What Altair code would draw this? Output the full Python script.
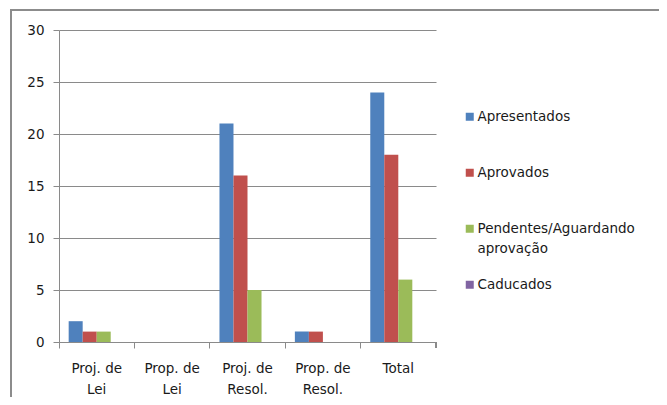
import altair as alt
import pandas as pd

categories = ["Proj. de Lei", "Prop. de Lei", "Proj. de Resol.", "Prop. de Resol.", "Total"]
series = ["Apresentados", "Aprovados", "Pendentes/Aguardando aprovação", "Caducados"]
apresentados = [2, 0, 21, 1, 24]
aprovados = [1, 0, 16, 1, 18]
pendentes = [1, 0, 5, 0, 6]
caducados = [0, 0, 0, 0, 0]
colors = ["#4F81BD", "#C0504D", "#9BBB59", "#8064A2"]
y_ticks = [0, 5, 10, 15, 20, 25, 30]

rows = []
for s, vals in zip(series, [apresentados, aprovados, pendentes, caducados]):
    for c, v in zip(categories, vals):
        rows.append({"cat": c, "serie": s, "valor": v})
df = pd.DataFrame(rows)

W, H = 377, 312
FONT = "DejaVu Sans"
GRAY = "#8a8a8a"

legend_expr = ("indexof(datum.label, '/Aguardando ') >= 0 ? "
               "[replace(datum.label, ' aprovação', ''), 'aprovação'] : [datum.label, '\u00a0']")

bars = alt.Chart(df).mark_bar().encode(
    x=alt.X("cat:N", sort=categories, title=None,
            scale=alt.Scale(paddingInner=0, paddingOuter=0),
            axis=alt.Axis(labelAngle=0, bandPosition=0, grid=False,
                          labelExpr="split(replace(datum.label, ' de ', ' de|'), '|')",
                          labelFont=FONT, labelFontSize=13.5, labelColor="#1a1a1a",
                          labelLineHeight=21, labelPadding=13, tickSize=6,
                          tickColor=GRAY, domainColor=GRAY)),
    xOffset=alt.XOffset("serie:N", sort=series,
                        scale=alt.Scale(paddingInner=0, paddingOuter=0.69)),
    y=alt.Y("valor:Q", title=None,
            scale=alt.Scale(domain=[0, 30], nice=False),
            axis=alt.Axis(values=y_ticks, labelFont=FONT, labelFontSize=13.5,
                          labelColor="#1a1a1a", labelPadding=9, tickSize=6,
                          tickColor=GRAY, domainColor=GRAY, gridColor=GRAY,
                          gridWidth=1.2)),
    color=alt.Color("serie:N", sort=series,
                    scale=alt.Scale(domain=series, range=colors),
                    legend=alt.Legend(title=None, orient="none", legendX=404, legendY=80,
                                      symbolType="square", symbolSize=64,
                                      symbolStrokeWidth=0, labelFont=FONT,
                                      labelFontSize=13.5, labelColor="#1a1a1a",
                                      labelOffset=1, labelLimit=400, rowPadding=21,
                                      labelExpr=legend_expr)),
)

end_tick = alt.Chart(df).mark_rule(color=GRAY, strokeWidth=1).encode(
    x=alt.value(W), y=alt.value(H), y2=alt.value(H + 6)
)

frame = alt.Chart(df).mark_rect(fill=None, stroke="#8c8c8c", strokeWidth=1.5, clip=False).encode(
    x=alt.value(-48), x2=alt.value(W + 400), y=alt.value(-20), y2=alt.value(H + 200)
)

chart = alt.layer(bars, end_tick, frame).properties(
    width=W, height=H,
    autosize=alt.AutoSizeParams(type="none"),
    padding={"left": 51, "top": 22, "right": 223, "bottom": 55},
    background="white",
).configure(style={"guide-label": {"lineHeight": 20}}).configure_view(stroke=None)

chart.save("out.html", embed_options={"renderer": "svg", "actions": False})
